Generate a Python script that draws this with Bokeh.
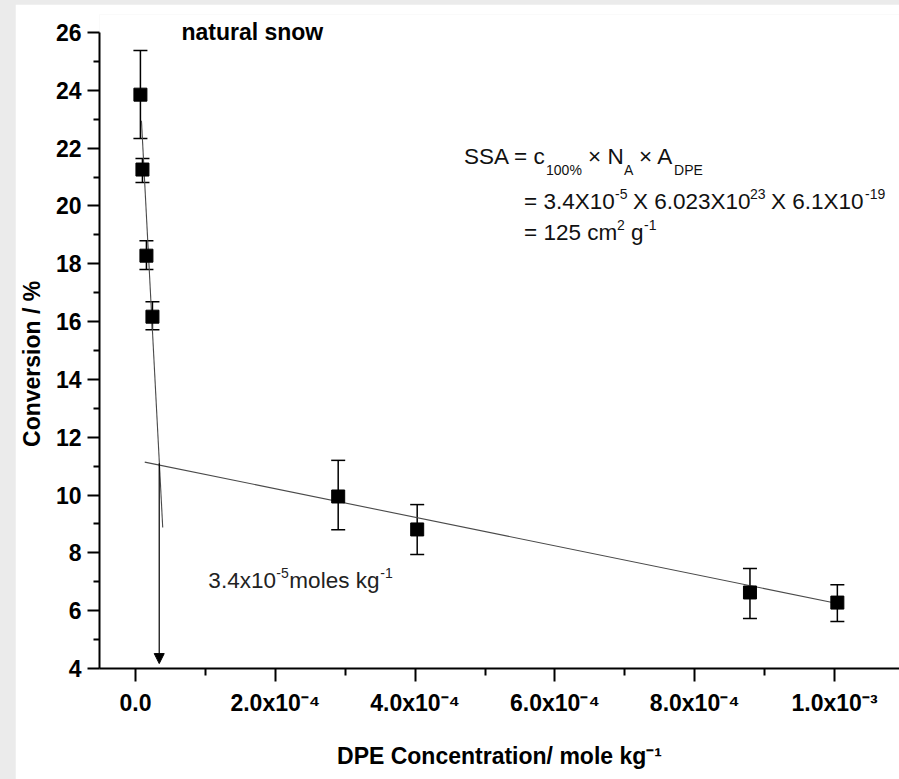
from bokeh.plotting import figure
from bokeh.models import (ColumnDataSource, Whisker, TeeHead, Arrow, NormalHead,
                          FixedTicker, CustomJSTickFormatter, Range1d, Spacer)
from bokeh.layouts import column, row
from bokeh.core.properties import value
from bokeh.embed import file_html
from bokeh.resources import INLINE

# ---------------- data ----------------
dpe_conc = [7.1e-6, 1.0e-5, 1.57e-5, 2.43e-5, 2.90e-4, 4.03e-4, 8.79e-4, 1.004e-3]
conversion = [23.85, 21.26, 18.28, 16.17, 9.95, 8.81, 6.63, 6.28]
conv_upper = [25.38, 21.64, 18.80, 16.69, 11.20, 9.67, 7.46, 6.90]
conv_lower = [22.33, 20.81, 17.80, 15.72, 8.80, 7.94, 5.73, 5.63]

# linear fits (end points of the drawn fit lines)
fit_low_x = [8.6e-6, 3.9e-5]
fit_low_y = [22.95, 8.88]
fit_high_x = [1.33e-5, 1.004e-3]
fit_high_y = [11.14, 6.25]

# 100% coverage concentration (intersection)
c100 = 3.4e-5
c100_conv = 11.1

x_ticks = [0.0, 2e-4, 4e-4, 6e-4, 8e-4, 1e-3]
x_tick_labels = ["0.0", "2.0x10⁻⁴", "4.0x10⁻⁴", "6.0x10⁻⁴", "8.0x10⁻⁴", "1.0x10⁻³"]
x_minor_ticks = [1e-4, 3e-4, 5e-4, 7e-4, 9e-4]
y_ticks = [4, 6, 8, 10, 12, 14, 16, 18, 20, 22, 24, 26]
y_minor_ticks = [5, 7, 9, 11, 13, 15, 17, 19, 21, 23, 25]

FONT = "Liberation Sans"

# y range reaches a little above 26 so the panel title is not clipped;
# the axis itself is bounded to 4..26
p = figure(width=884, height=775,
           x_range=Range1d(-5.143e-5, 1.0929e-3), y_range=Range1d(4, 26.623),
           output_backend="svg", toolbar_location=None,
           min_border_left=83, min_border_right=0, min_border_top=10, min_border_bottom=111)
p.outline_line_color = None
p.grid.visible = False
p.background_fill_color = "white"
p.border_fill_color = "white"

xa = p.xaxis[0]
ya = p.yaxis[0]
ya.bounds = (4, 26)
xa.ticker = FixedTicker(ticks=x_ticks, minor_ticks=x_minor_ticks)
ya.ticker = FixedTicker(ticks=y_ticks, minor_ticks=y_minor_ticks)
xa.formatter = CustomJSTickFormatter(args=dict(tvals=x_ticks, tlabels=x_tick_labels), code="""
let best = 0, bd = Infinity;
for (let i = 0; i < tvals.length; i++) {
  const d = Math.abs(tvals[i] - tick);
  if (d < bd) { bd = d; best = i; }
}
return tlabels[best];
""")
for ax in (xa, ya):
    ax.axis_line_width = 2
    ax.axis_line_color = "black"
    ax.major_tick_line_width = 2
    ax.minor_tick_line_width = 2
    ax.major_tick_line_color = "black"
    ax.minor_tick_line_color = "black"
    ax.major_tick_in = 0
    ax.minor_tick_in = 0
    ax.major_label_text_font = FONT
    ax.major_label_text_font_style = "bold"
    ax.major_label_text_font_size = "23px"
    ax.major_label_text_color = "black"
    ax.axis_label_text_font = FONT
    ax.axis_label_text_font_style = "bold"
    ax.axis_label_text_font_size = "23px"
    ax.axis_label_text_color = "black"

ya.major_tick_out = 12
ya.minor_tick_out = 6
ya.major_label_standoff = 6
# trailing no-break spaces move the visible label down to where the reference has it
ya.axis_label = "Conversion / %" + "\u00a0" * 7
ya.axis_label_standoff = 8

xa.major_tick_out = 13
xa.minor_tick_out = 7
xa.major_label_standoff = 8
xa.axis_label = "DPE Concentration/ mole kg⁻¹"
xa.axis_label_standoff = 24

# fit lines
p.line(fit_low_x, fit_low_y, line_color="#4a4a4a", line_width=1.1)
p.line(fit_high_x, fit_high_y, line_color="#4a4a4a", line_width=1.1)

# arrow to the x axis
p.add_layout(Arrow(end=NormalHead(size=10, fill_color="black", line_color="black", line_width=1),
                   x_start=c100, y_start=c100_conv, x_end=c100, y_end=4.17,
                   line_color="black", line_width=1.2))

# error bars + markers
src = ColumnDataSource(dict(x=dpe_conc, y=conversion, upper=conv_upper, lower=conv_lower))
wh = Whisker(source=src, base="x", upper="upper", lower="lower", dimension="height",
             line_color="black", line_width=1.5,
             upper_head=TeeHead(size=14, line_width=1.5, line_color="black"),
             lower_head=TeeHead(size=14, line_width=1.5, line_color="black"))
wh.level = "underlay"
p.add_layout(wh)
p.scatter("x", "y", source=src, marker="square", size=13, fill_color="black", line_color="black")


def add_text(frags, ax, ay, bold, color):
    srct = ColumnDataSource(dict(
        x=[ax] * len(frags), y=[ay] * len(frags),
        text=[f[0] for f in frags], xo=[f[1] for f in frags], yo=[f[2] for f in frags],
        fs=[f"{f[3]}px" for f in frags]))
    p.text(x="x", y="y", text="text", x_offset="xo", y_offset="yo", source=srct,
           text_font=value(FONT), text_font_size="fs",
           text_font_style=value("bold" if bold else "normal"),
           text_color=color, text_align="left", text_baseline="alphabetic")


M, S = 22.5, 14
# SSA formula (anchor in data units, fragments offset in pixels)
formula = [
    ("SSA = c", 0, 0, M), ("100%", 82, 14, S), ("× N", 124, 0, M), ("A", 160, 14, S),
    ("× A", 175, 0, M), ("DPE", 210, 14, S),
    ("= 3.4X10", 60, 45, M), ("-5", 151, 38, S), ("X 6.023X10", 169, 45, M), ("23", 286, 38, S),
    ("X 6.1X10", 307, 45, M), ("-19", 401, 38, S),
    ("= 125 cm", 60, 76, M), ("2", 153, 69, S), ("g", 167, 76, M), ("-1", 180, 69, S),
]
add_text(formula, 4.7e-4, 21.72, False, "#111111")

conc_label = [("3.4x10", 0, 0, M), ("-5", 68, -8, S), ("moles kg", 81, 0, M), ("-1", 172, -8, S)]
add_text(conc_label, 1.043e-4, 7.03, False, "#222222")

add_text([("natural snow", 0, 0, 23)], 6.57e-5, 26.02, True, "black")

layout = column(Spacer(width=899, height=4),
                row(Spacer(width=15, height=775), p),
                styles={"background-color": "#ebebeb"})

open("out.html", "w").write(file_html(layout, INLINE))
